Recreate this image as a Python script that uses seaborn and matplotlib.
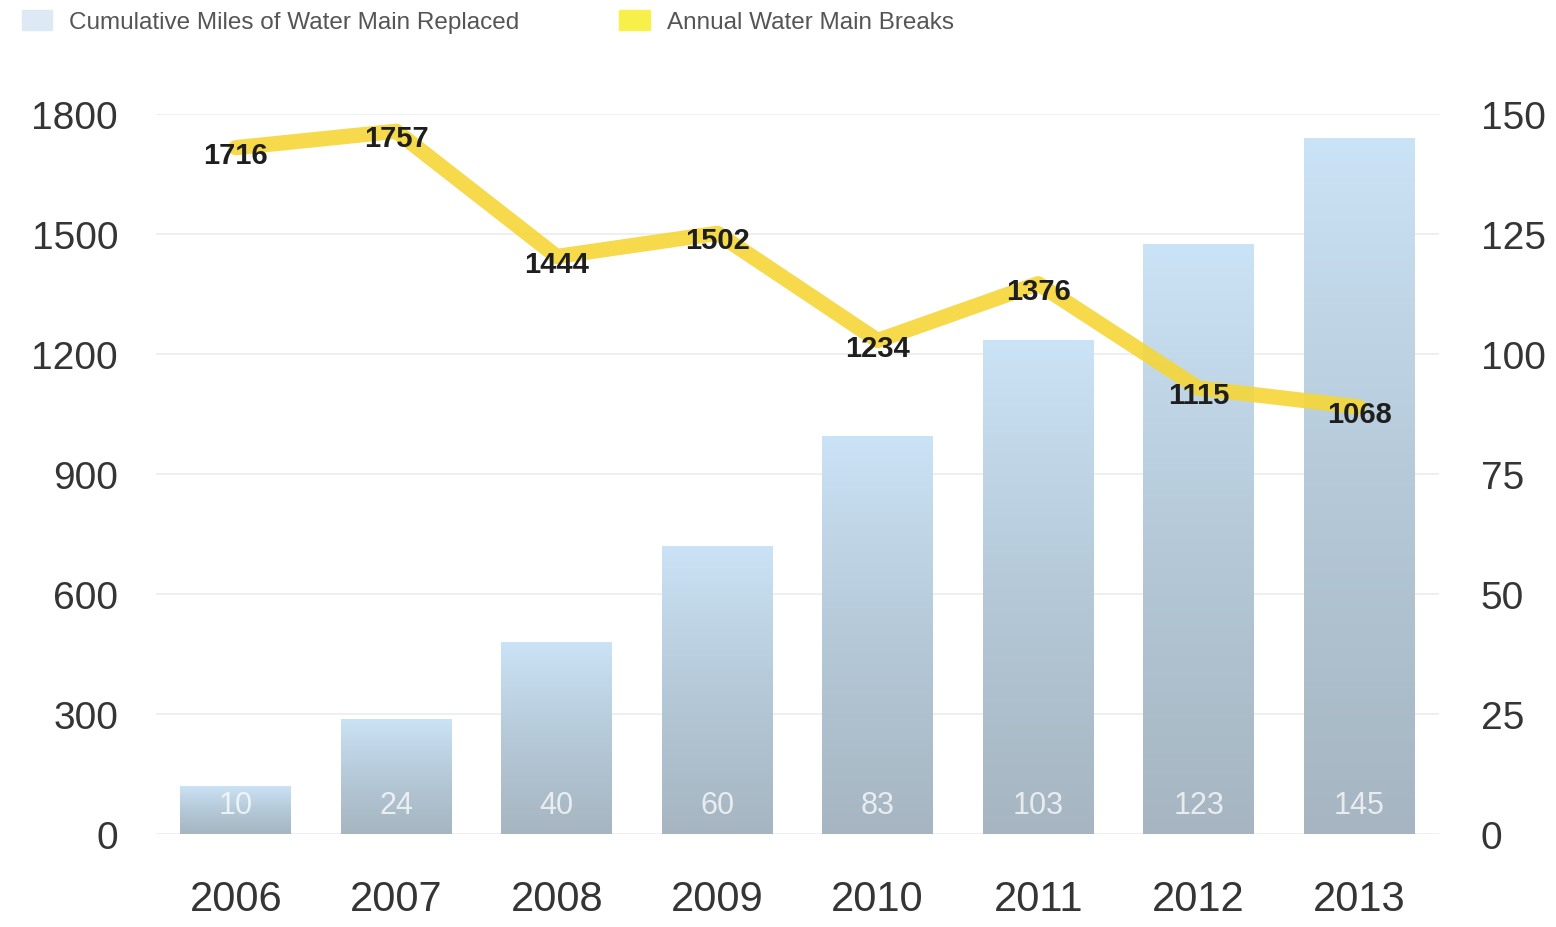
import numpy as np
import seaborn as sb
import pandas as pd
import matplotlib.pyplot as plt
from matplotlib.patches import Patch

# values
years = ["2006", "2007", "2008", "2009", "2010", "2011", "2012", "2013"]
miles_replaced = [10, 24, 40, 60, 83, 103, 123, 145]
main_breaks = [1716, 1757, 1444, 1502, 1234, 1376, 1115, 1068]
left_ticks = [0, 300, 600, 900, 1200, 1500, 1800]
right_ticks = [0, 25, 50, 75, 100, 125, 150]

sb.set_style("white")
plt.rcParams['font.family'] = ['Liberation Sans', 'DejaVu Sans']

df = pd.DataFrame({"year": years, "miles": miles_replaced, "breaks": main_breaks})

fig = plt.figure(figsize=(15.56, 9.28), dpi=100)
ax = fig.add_axes([0.100, 0.100, 0.825, 0.776])
ax2 = ax.twinx()

# bars on the right axis
sb.barplot(data=df, x="year", y="miles", ax=ax2, color="#b9d3e6", width=0.69, zorder=2)
ax2.set_ylim(0, 150)
ax2.set_yticks(right_ticks)
ax2.yaxis.grid(True, color="#ececec", lw=1.2, zorder=0)
ax2.set_axisbelow(True)

# gradient fill on each bar: light blue on top, grey-blue at the bottom
grad = np.linspace(0, 1, 256).reshape(-1, 1)
cmap = sb.blend_palette(["#a6b5c1", "#b5c9d8", "#cbe3f6"], as_cmap=True)
for p in ax2.patches:
    x0, w, h = p.get_x(), p.get_width(), p.get_height()
    im = ax2.imshow(grad, cmap=cmap, origin="lower", aspect="auto",
                    extent=[x0, x0 + w, 0, h], zorder=2)
    im.set_clip_path(p)
    p.set_alpha(0)
for i, v in enumerate(miles_replaced):
    ax2.text(i, 6, str(v), ha="center", va="center", fontsize=22,
             color="white", alpha=0.75, zorder=3)

# annual breaks line on the left axis, drawn above bars
ax.set_zorder(ax2.get_zorder() + 1)
ax.patch.set_visible(False)
sb.pointplot(data=df, x="year", y="breaks", ax=ax, color="#f5d638",
             linewidth=11, markersize=0, alpha=0.9)
for i, v in enumerate(main_breaks):
    ax.text(i, v - 18, str(v), ha="center", va="center", fontsize=21,
            fontweight="bold", color="#1e1e1e")
ax.set_ylim(0, 1800)
ax.set_yticks(left_ticks)
ax.set_xlim(-0.5, 7.5)

for a in (ax, ax2):
    for s in a.spines.values():
        s.set_visible(False)
    a.set_xlabel("")
    a.set_ylabel("")
    a.tick_params(axis="both", length=0, labelsize=28, colors="#353535")
ax.tick_params(axis="x", labelsize=30, pad=32)
ax.tick_params(axis="y", pad=27)
ax2.tick_params(axis="y", pad=30)
ax2.tick_params(axis="x", labelbottom=False)

handles = [Patch(color="#dde9f4", label="Cumulative Miles of Water Main Replaced"),
           Patch(color="#f7ef4a", label="Annual Water Main Breaks")]
fig.legend(handles=handles, loc="upper left", bbox_to_anchor=(0.0, 1.012), ncol=2,
           frameon=False, fontsize=17.5, labelcolor="#555555", columnspacing=4.1,
           handlelength=1.25, handleheight=0.9, handletextpad=0.7)

plt.savefig("out.png", dpi=100)
